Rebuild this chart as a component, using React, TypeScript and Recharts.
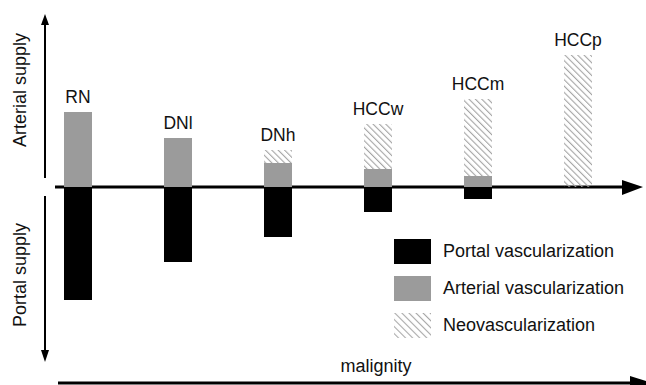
import React from 'react';
import { BarChart, Bar, XAxis, YAxis, LabelList, Customized } from 'recharts';

const categories = ['RN', 'DNl', 'DNh', 'HCCw', 'HCCm', 'HCCp'];
const arterial = [75, 49, 24, 18, 11, 0];
const neo = [0, 0, 13, 45, 77, 132];
const portal = [-113, -75, -50, -25, -12, 0];

const data = categories.map((name, i) => ({
  name,
  arterial: arterial[i],
  neo: neo[i],
  portal: portal[i],
}));

const FONT = '"Liberation Sans", Arial, Helvetica, sans-serif';
const GRAY = '#9b9b9b';
const W = 646;
const H = 385;
const M = { top: 37, right: 18, bottom: 48, left: 28 };

const neoOf = (name: string) => {
  const i = categories.indexOf(name);
  return i >= 0 ? neo[i] : 0;
};

const makeLabel = (onNeo: boolean) => (props: any) => {
  const { x, y, width, value } = props;
  const hasNeo = neoOf(value) > 0;
  if (hasNeo !== onNeo) return null;
  return (
    <text x={x + width / 2} y={y - 9} textAnchor="middle" fontFamily={FONT} fontSize={17.5} fill="#111">
      {value}
    </text>
  );
};

const Decorations = () => (
  <g>
    <line x1={55} y1={187} x2={626} y2={187} stroke="#000" strokeWidth={3} />
    <polygon points="622,180 643,187 622,195" fill="#000" />
    <line x1={45} y1={178} x2={45} y2={22} stroke="#000" strokeWidth={2} />
    <polygon points="41,25 45,14 49,25" fill="#000" />
    <line x1={45} y1={196} x2={45} y2={352} stroke="#000" strokeWidth={2} />
    <polygon points="41,350 45,362 49,350" fill="#000" />
    <line x1={58} y1={383} x2={634} y2={383} stroke="#000" strokeWidth={3} />
    <polygon points="630,376 652,383 630,391" fill="#000" />
    <text x={20} y={90} transform="rotate(-90 20 90)" textAnchor="middle" dominantBaseline="central"
      fontFamily={FONT} fontSize={18} fill="#111">
      Arterial supply
    </text>
    <text x={20} y={275} transform="rotate(-90 20 275)" textAnchor="middle" dominantBaseline="central"
      fontFamily={FONT} fontSize={18} fill="#111">
      Portal supply
    </text>
    <text x={376} y={372} textAnchor="middle" fontFamily={FONT} fontSize={18} fill="#111">
      malignity
    </text>
  </g>
);

const legendItems = [
  { label: 'Portal vascularization', kind: 'portal' },
  { label: 'Arterial vascularization', kind: 'arterial' },
  { label: 'Neovascularization', kind: 'neo' },
];

const LegendBox = () => (
  <div style={{ position: 'absolute', left: 394, top: 233, fontFamily: FONT, fontSize: 18, color: '#111' }}>
    {legendItems.map((it) => (
      <div key={it.kind} style={{ display: 'flex', alignItems: 'center', height: 37 }}>
        <svg width={37} height={25} style={{ display: 'block' }}>
          <defs>
            <pattern id={'lh-' + it.kind} width={5} height={5} patternUnits="userSpaceOnUse" patternTransform="rotate(-45)">
              <line x1={0} y1={0} x2={0} y2={5} stroke="#a8a8a8" strokeWidth={2.2} />
            </pattern>
          </defs>
          <rect x={0} y={0} width={37} height={25}
            fill={it.kind === 'portal' ? '#000' : it.kind === 'arterial' ? GRAY : 'url(#lh-' + it.kind + ')'} />
        </svg>
        <span style={{ marginLeft: 12, whiteSpace: 'nowrap' }}>{it.label}</span>
      </div>
    ))}
  </div>
);

export default function App() {
  return (
    <div style={{ position: 'absolute', left: 0, top: 0, width: W, height: H, background: '#fff' }}>
      <BarChart width={W} height={H} data={data} margin={M} stackOffset="sign" barSize={28}>
        <defs>
          <pattern id="hatch" width={4.5} height={4.5} patternUnits="userSpaceOnUse" patternTransform="rotate(-45)">
            <line x1={0} y1={0} x2={0} y2={4.5} stroke="#a4a4a4" strokeWidth={2.2} />
          </pattern>
        </defs>
        <XAxis dataKey="name" hide />
        <YAxis hide domain={[-150, 150]} />
        <Bar dataKey="portal" stackId="s" fill="#000" isAnimationActive={false} />
        <Bar dataKey="arterial" stackId="s" fill={GRAY} isAnimationActive={false}>
          <LabelList dataKey="name" content={makeLabel(false)} />
        </Bar>
        <Bar dataKey="neo" stackId="s" fill="url(#hatch)" isAnimationActive={false}>
          <LabelList dataKey="name" content={makeLabel(true)} />
        </Bar>
        <Customized component={<Decorations />} />
      </BarChart>
      <LegendBox />
    </div>
  );
}
